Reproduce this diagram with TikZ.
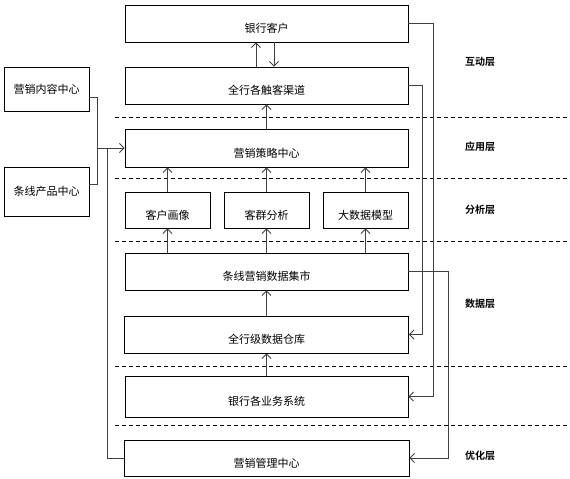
\documentclass[tikz,border=0pt]{standalone}
\usepackage{fontspec}
\setmainfont{Noto Sans CJK SC}[BoldFont={Noto Sans CJK SC Bold}]
\usepackage{tikz}
\usetikzlibrary{arrows.meta,calc,positioning}

\begin{document}
\begin{tikzpicture}[
    x=1pt,
    y=-1pt,
    box/.style={
        draw=black,
        line width=0.8pt,
        inner sep=0pt,
        font=\fontsize{11}{13}\selectfont,
        text height=20pt,
        text depth=2pt
    },
    sidebox/.style={
        draw=black,
        line width=0.8pt,
        inner sep=0pt,
        font=\fontsize{11}{13}\selectfont
    },
    conn/.style={
        draw=black!75,
        line width=0.9pt,
        -{Straight Barb[length=4.5pt,width=9pt]}
    },
    plain/.style={
        draw=black!75,
        line width=0.9pt
    },
    sep/.style={
        draw=black,
        line width=0.7pt,
        dash pattern=on 4pt off 3pt
    },
    layer/.style={
        font=\fontsize{10}{12}\selectfont\bfseries
    }
]

\useasboundingbox (0,0) rectangle (570,479);

\foreach \y in {117,178,241,366,425}
    \draw[sep] (115,\y) -- (570,\y);

\node[box,minimum width=283,minimum height=37] (cust) at (266.5,23.5) {银行客户};
\node[box,minimum width=283,minimum height=37] (chan) at (266.5,85.5) {全行各触客渠道};
\node[box,minimum width=283,minimum height=38] (strat) at (266.5,148) {营销策略中心};

\node[sidebox,minimum width=85,minimum height=44] (content) at (46.5,89) {营销内容中心};
\node[sidebox,minimum width=85,minimum height=49] (prod) at (46.5,191.5) {条线产品中心};

\node[box,minimum width=85,minimum height=36] (portrait) at (167.5,210) {客户画像};
\node[box,minimum width=85,minimum height=36] (group) at (266.5,210) {客群分析};
\node[box,minimum width=85,minimum height=36] (bigdata) at (365.5,210) {大数据模型};

\node[box,minimum width=283,minimum height=37] (mart) at (266.5,271.5) {条线营销数据集市};
\node[box,minimum width=284,minimum height=37] (dw) at (266.5,334.5) {全行级数据仓库};
\node[box,minimum width=283,minimum height=41] (sys) at (266.5,396.5) {银行各业务系统};
\node[box,minimum width=285,minimum height=36] (mgmt) at (266.5,458) {营销管理中心};

\node[layer] (l1) at (480,62) {互动层};
\node[layer] (l2) at (480,147) {应用层};
\node[layer] (l3) at (480,210) {分析层};
\node[layer] (l4) at (480,304) {数据层};
\node[layer] (l5) at (480,456) {优化层};

\draw[conn] ([xshift=-10.5pt]chan.north) -- ([xshift=-10.5pt]cust.south);
\draw[conn] ([xshift=7.5pt]cust.south) -- ([xshift=7.5pt]chan.north);
\draw[conn] (strat.north) -- (chan.south);

\foreach \n in {portrait,group,bigdata} {
    \draw[conn] (\n.north) -- (\n.north |- strat.south);
    \draw[conn] (\n.south |- mart.north) -- (\n.south);
}

\draw[conn] (dw.north) -- (mart.south);
\draw[conn] (sys.north) -- (dw.south);

\coordinate (merge) at (97,148);
\draw[plain] ([yshift=-8pt]content.east) -| (merge);
\draw[plain] ([yshift=7.5pt]prod.east) -| (merge);
\draw[conn] (merge) -- (strat.west);
\draw[plain] (mgmt.west) -| ([xshift=-17pt]strat.west);

\draw[conn] (cust.east) -| ([xshift=25pt]sys.east) -- (sys.east);
\draw[conn] (chan.east) -| ([xshift=14pt]dw.east) -- (dw.east);
\draw[conn] (mart.east) -| ([xshift=39.5pt]mgmt.east) -- (mgmt.east);

\end{tikzpicture}
\end{document}
